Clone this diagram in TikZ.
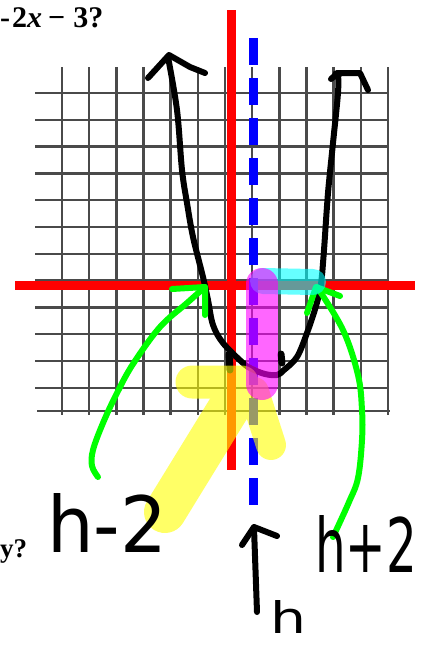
\documentclass[tikz,border=0pt]{standalone}
\usepackage{fontspec}
\usepackage{graphicx}
\setmainfont{Liberation Serif}
\newfontfamily\handfont{DejaVu Sans}
\usetikzlibrary{calc}
\definecolor{penred}{HTML}{FF0000}
\definecolor{penblue}{HTML}{0000FF}
\definecolor{pengreen}{HTML}{00FF00}
\definecolor{hlyellow}{HTML}{FFFF00}
\definecolor{hlcyan}{HTML}{00FFFF}
\definecolor{hlmagenta}{HTML}{FF00FF}
\definecolor{gridink}{HTML}{4A4A4A}
\tikzset{
  sk grid/.style={draw=gridink, line width=2.5pt},
  sk axis/.style={draw=penred, line width=9pt},
  sk sym/.style={draw=penblue, line width=9pt, dash pattern=on 27pt off 13pt},
  sk pen/.style={draw=black, line width=6pt, line cap=round, line join=round},
  sk green/.style={draw=pengreen, line width=6pt, line cap=round, line join=round},
  sk hl/.style={line cap=round, line join=round},
  sk hand/.style={inner sep=0pt, anchor=north west, font=\handfont},
  sk print/.style={inner sep=0pt, anchor=base west},
}

\begin{document}
\begin{tikzpicture}[x=1pt, y=-1pt]
  \useasboundingbox (0,0) rectangle (423,649);
  % printed worksheet: question text and grid
  \node[sk print, font=\fontsize{30}{30}\selectfont\bfseries] (eq) at (0,27) {-\hspace{2pt}2\textit{x}\hspace{6pt}−\hspace{8pt}3?};
  \node[sk print, font=\fontsize{27}{27}\selectfont\bfseries] (yq) at (0,557) {y?};
  \foreach \i in {0,...,12} \draw[sk grid] ({62+27.17*\i},67) -- ({62+27.17*\i},415);
  \foreach \j in {0,...,11} \draw[sk grid] (35,{93+26.8*\j}) -- (388,{93+26.8*\j});
  \draw[sk grid] (37,411) -- (390,411);
  % axes and axis of symmetry
  \draw[sk axis] (231,10) -- (231,470);
  \draw[sk axis] (15,285) -- (415,285);
  \draw[sk sym] (253,38) -- (253,507);
  % the parabola
  \draw[sk pen] plot[smooth, tension=0.55] coordinates {(168,57) (177,110) (182,170) (187,203) (193,237) (203,277) (208,300) (213,325) (223,343) (243,363) (252,369) (265,374) (277,375) (284,370) (297,357) (307,333) (316,306) (321,284) (324,250) (328,193) (333,143) (338,93) (338,74)};
  \draw[sk pen] (148,78) -- (169,55) -- (190,67) -- (205,73);
  \draw[sk pen] (331,79) -- (338,73) -- (360,73) -- (368,90);
  \fill (337,75) circle (5);
  \draw[sk pen, line width=7pt] (229,354) -- (230,370);
  \draw[sk pen, line width=7pt] (281,354) -- (282,363);
  % green pointers to the roots
  \draw[sk green] plot[smooth, tension=0.6] coordinates {(98,477) (92,466) (93,450) (103,423) (117,393) (133,364) (160,327) (187,303) (205,287)};
  \draw[sk green] (172,289) -- (205,287) -- (205,315);
  \draw[sk green] plot[smooth, tension=0.6] coordinates {(333,537) (349,502) (358,478) (362,440) (362,410) (358,375) (343,330) (317,287)};
  \draw[sk green] (307,313) -- (316,287) -- (340,296);
  % highlighter strokes
  \begin{scope}[transparency group, opacity=0.6]
    \draw[sk hl, draw=hlyellow, line width=33pt] (192,382) -- (242,382);
    \draw[sk hl, draw=hlyellow, line width=42pt] (240,390) -- (165,512);
    \draw[sk hl, draw=hlyellow, line width=30pt] (254,392) -- (271,445);
  \end{scope}
  \draw[sk hl, draw=hlcyan, opacity=0.6, line width=26pt] (263,281) -- (313,282);
  \draw[sk hl, draw=hlmagenta, opacity=0.6, line width=32pt] (262,284) -- (262,384);
  % handwritten labels
  \node[sk hand] (lbl hm) at (47,493) {\resizebox{120pt}{59pt}{h-2}};
  \node[sk hand] (lbl hp) at (315,515) {\resizebox{102pt}{57pt}{h+2}};
  \node[sk hand] (lbl h) at (270,600) {\resizebox{36pt}{33pt}{h}};
  \draw[sk pen] (257,612) -- (254,528);
  \draw[sk pen] (242,545) -- (254,527) -- (277,536);
\end{tikzpicture}
\end{document}
